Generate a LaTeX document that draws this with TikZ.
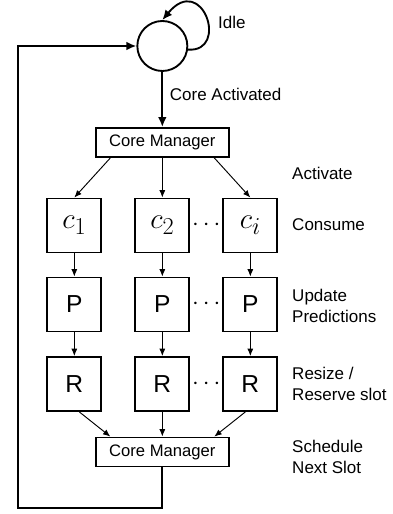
\documentclass[tikz,border=0pt]{standalone}
\usepackage{fontspec}
\setmainfont{Liberation Sans}
\usetikzlibrary{positioning, calc, arrows.meta}

\tikzset{
  cmbox/.style={draw, line width=1.6pt, minimum width=3.99cm, minimum height=0.87cm,
    inner sep=0pt, font=\fontsize{14.2}{16}\selectfont},
  corebox/.style={draw, line width=1.6pt, minimum size=1.62cm, inner sep=0pt,
    font=\fontsize{21}{24}\selectfont},
  lbl/.style={anchor=west, align=left, inner sep=0pt, font=\fontsize{14.5}{18}\selectfont},
  arr/.style={-{Latex[length=2.2mm,width=1.8mm]}, line width=0.8pt},
  bigarr/.style={-{Latex[length=3mm,width=2.6mm]}, line width=1.6pt}
}

\begin{document}
\begin{tikzpicture}
  \useasboundingbox (0,0) rectangle (11.79,15.42);

  % layout variables
  \def\cx{4.87}
  \def\dx{2.64}
  \def\lx{8.76}

  % idle state
  \node[draw, circle, line width=1.6pt, minimum size=1.5cm, inner sep=0pt] (idle) at (\cx,14.04) {};
  \draw[bigarr] (idle.-8) .. controls +(1.25,-0.09) and +(1.2,1.45) .. (idle.north);
  \node[lbl] (idlelbl) at (6.54,14.76) {Idle};

  % core manager (activate)
  \node[cmbox] (cmtop) at (\cx,11.145) {Core Manager};
  \draw[bigarr] (idle) -- (cmtop)
    node[pos=0.4, lbl, xshift=0.2cm] (actlbl) {Core Activated};

  % cores, predictions, resize
  \foreach \i/\n in {1/1, 2/2, 3/i} {
    \node[corebox] (c\i) at ({\cx+(\i-2)*\dx}, 8.655) {\fontsize{28}{32}\selectfont$c_{\n}$};
    \node[corebox] (p\i) at ({\cx+(\i-2)*\dx}, 6.285) {P};
    \node[corebox] (r\i) at ({\cx+(\i-2)*\dx}, 3.9) {R};
    \draw[arr] (c\i) -- (p\i);
    \draw[arr] (p\i) -- (r\i);
  }
  \node[font=\fontsize{22}{26}\selectfont] (cdots) at ($(c2)!0.5!(c3)$) {$\cdots$};
  \node[font=\fontsize{22}{26}\selectfont] (pdots) at ($(p2)!0.5!(p3)$) {$\cdots$};
  \node[font=\fontsize{22}{26}\selectfont] (rdots) at ($(r2)!0.5!(r3)$) {$\cdots$};

  \draw[arr] ([xshift=-1.56cm]cmtop.south) -- (c1.north);
  \draw[arr] (cmtop.south) -- (c2.north);
  \draw[arr] ([xshift=1.56cm]cmtop.south) -- (c3.north);

  % core manager (schedule)
  \node[cmbox] (cmbot) at (\cx,1.86) {Core Manager};
  \draw[arr] ([xshift=0.15cm]r1.south) -- ([xshift=-1.56cm]cmbot.north);
  \draw[arr] (r2.south) -- (cmbot.north);
  \draw[arr] ([xshift=-0.15cm]r3.south) -- ([xshift=1.56cm]cmbot.north);

  % back to idle
  \coordinate (loopc) at (0.54,0.18);
  \draw[bigarr] (cmbot.south) |- (loopc) |- (idle.west);

  % step labels
  \node[lbl] (l1) at (\lx,10.23) {Activate};
  \node[lbl] (l2) at (\lx,8.67) {Consume};
  \node[lbl] (l3) at (\lx,6.255) {Update\\Predictions};
  \node[lbl] (l4) at (\lx,3.9) {Resize /\\Reserve slot};
  \node[lbl] (l5) at (\lx,1.725) {Schedule\\Next Slot};
\end{tikzpicture}
\end{document}
